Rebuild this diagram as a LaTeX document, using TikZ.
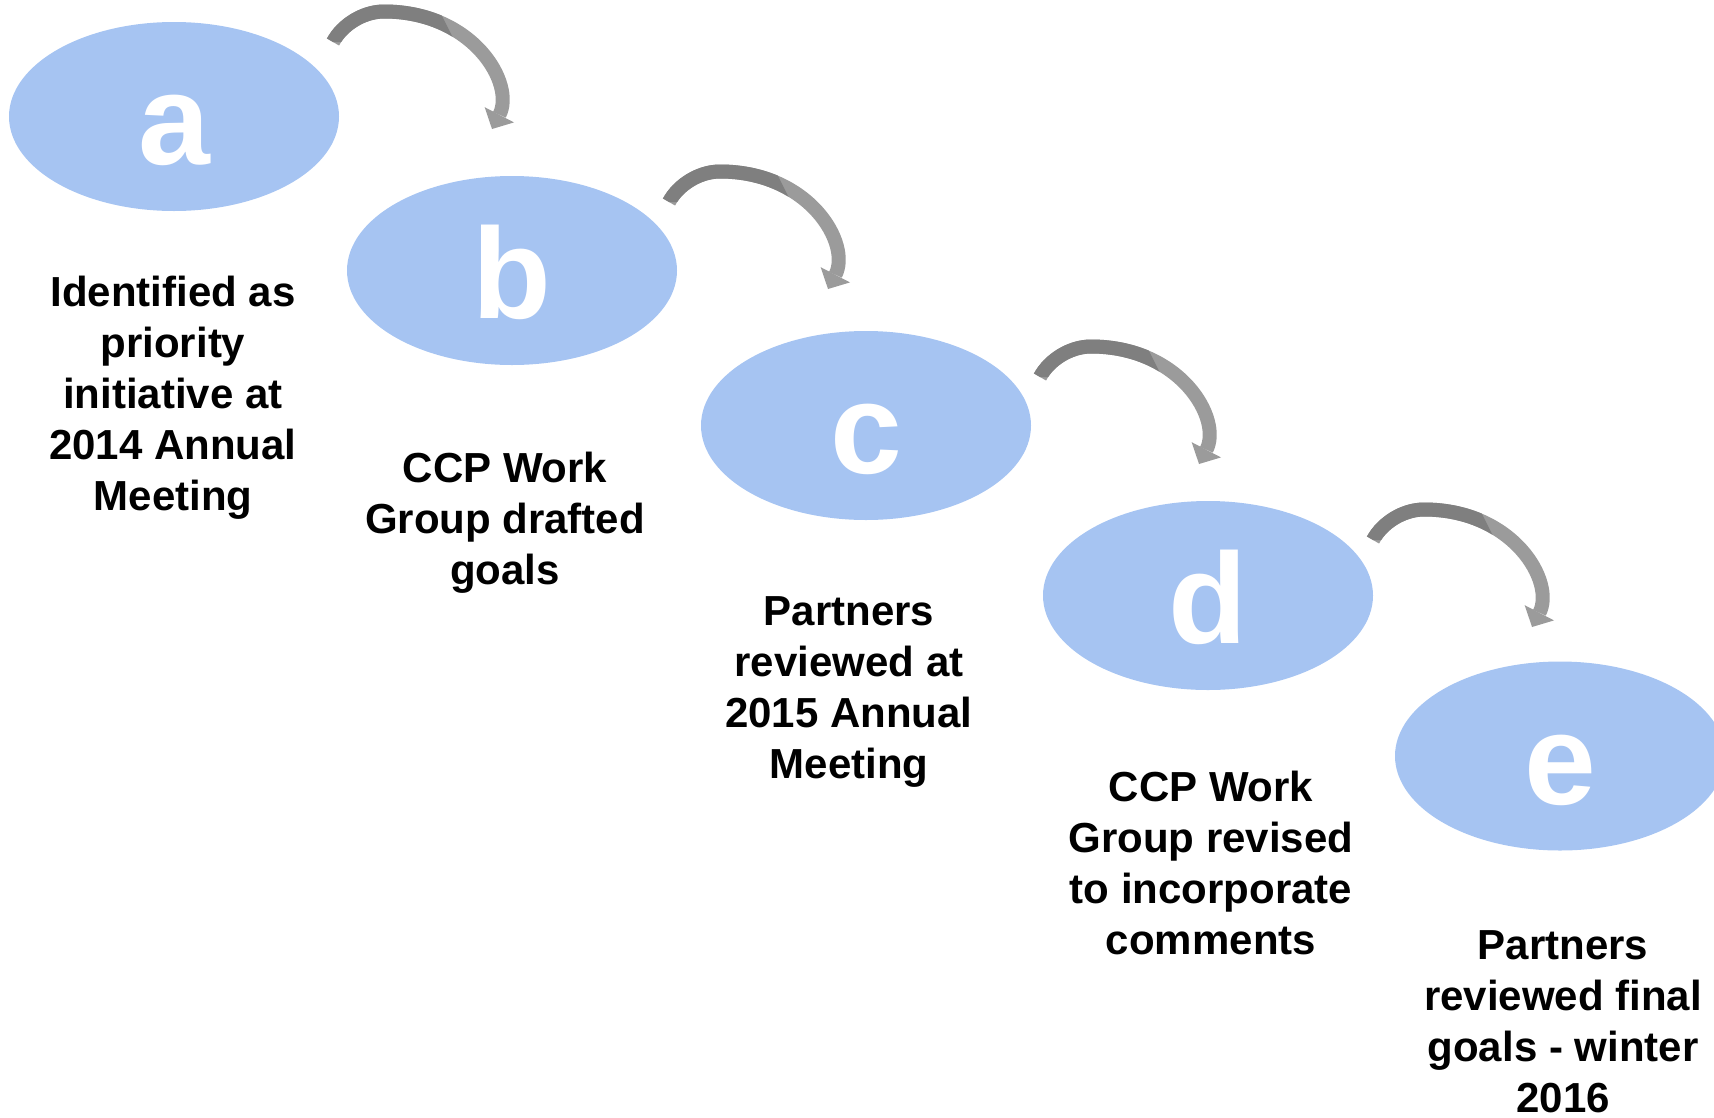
\documentclass[tikz,border=0pt]{standalone}
\usepackage{fontspec}
\setmainfont{Liberation Sans}
\usetikzlibrary{shapes.geometric}
\definecolor{bubble}{HTML}{A6C4F2}
\definecolor{arrowdark}{HTML}{7F7F7F}
\definecolor{arrowlight}{HTML}{9B9B9B}
\newcommand\bigletter{\fontsize{129}{129}\selectfont\bfseries}
\newcommand\capfont{\fontsize{42}{51}\selectfont\bfseries}
\newcommand\curlpath{(0,0) .. controls (9,-17) and (30,-30.5) .. (51,-30.5) .. controls (140,-30.5) and (182.5,41.7) .. (166.4,72.8)}
\newcommand\curl[1]{%
  \begin{scope}[shift={(#1)}]
    \draw[arrowbody, arrowlight] \curlpath;
    \fill[arrowlight] (181,80.4) -- (159,87) -- (151.7,65.2) -- cycle;
    \begin{scope}
      \clip (-30,-60) -- (92,-60) -- (122,0) -- (-30,0) -- cycle;
      \draw[arrowbody, arrowdark] \curlpath;
    \end{scope}
  \end{scope}}
\tikzset{
  bubblenode/.style={ellipse, fill=bubble, minimum width=330pt, minimum height=189pt,
    inner sep=0pt, text=white, font=\bigletter, text height=96pt, text depth=0pt},
  captionnode/.style={align=center, font=\capfont, inner sep=0pt, anchor=base},
  arrowbody/.style={line width=14pt, line cap=butt}
}
\begin{document}
\begin{tikzpicture}[x=1pt, y=-1pt]
\useasboundingbox (0,0) rectangle (1714,1117);
\clip (0,0) rectangle (1714,1117);
\node[bubblenode] (a) at (174,116.5) {a};
\node[bubblenode] (b) at (512,270.5) {b};
\node[bubblenode] (c) at (866,425.5) {c};
\node[bubblenode] (d) at (1208,595.5) {d};
\node[bubblenode] (e) at (1560,756) {e};
% base anchor = baseline of the last line
\node[captionnode] (ta) at (173,510) {Identified as\\priority\\initiative at\\2014 Annual\\Meeting};
\node[captionnode] (tb) at (505,584) {CCP Work\\Group drafted\\goals};
\node[captionnode] (tc) at (849,778) {Partners\\reviewed at\\2015 Annual\\Meeting};
\node[captionnode] (td) at (1211,954) {CCP Work\\Group revised\\to incorporate\\comments};
\node[captionnode] (te) at (1563,1112) {Partners\\reviewed final\\goals - winter\\2016};
\coordinate (ca) at (333,42);
\coordinate (cb) at (669,202);
\coordinate (cc) at (1040,377);
\coordinate (cd) at (1373,540);
\curl{ca}
\curl{cb}
\curl{cc}
\curl{cd}
\end{tikzpicture}
\end{document}
